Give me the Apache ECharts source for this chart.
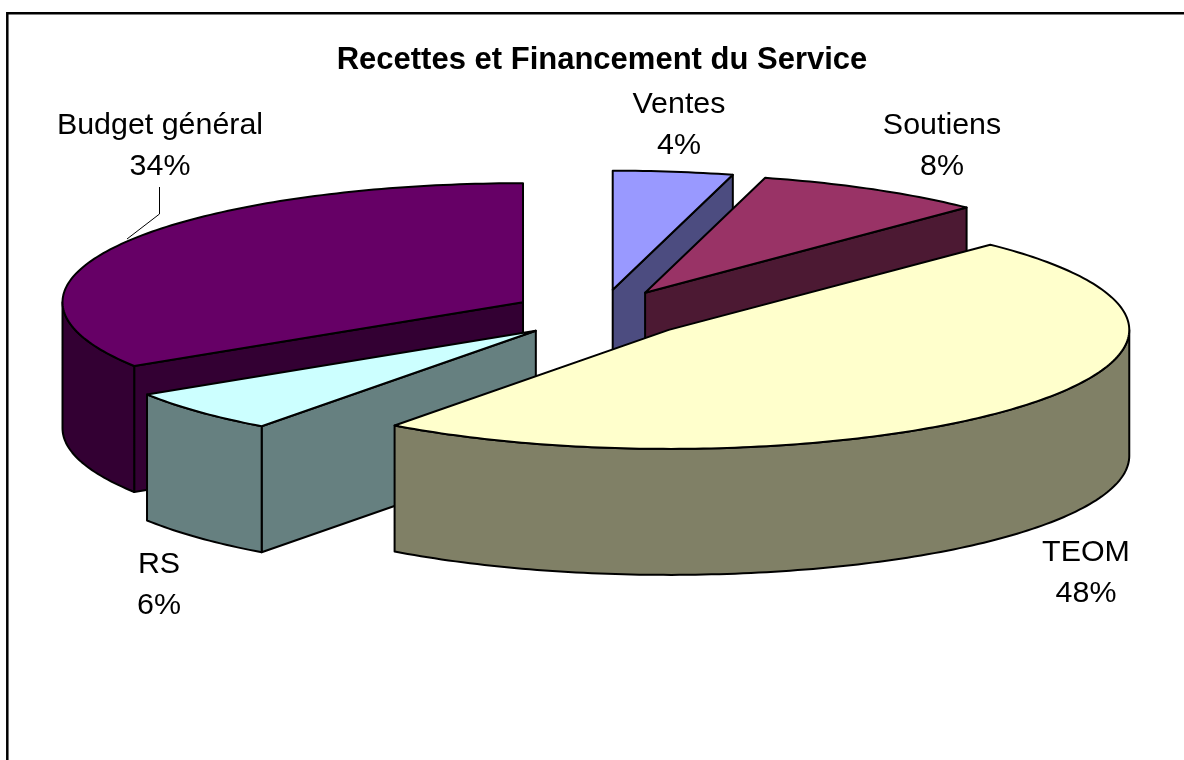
<!DOCTYPE html>
<html><head><meta charset="utf-8">
<style>html,body{margin:0;padding:0;background:#fff}#c{width:1184px;height:760px}</style>
<script src="https://cdn.jsdelivr.net/npm/echarts@6/dist/echarts.min.js"></script>
</head><body><div id="c"></div>
<script>
const categories = ['Ventes', 'Soutiens', 'TEOM', 'RS', 'Budget général'];
const shares = [4.2, 8.1, 47.85, 5.85, 34.0];
const topColors = ['#9999FF', '#993366', '#FFFFCC', '#CCFFFF', '#660066'];
const sideColors = ['#4C4C80', '#4C1933', '#808066', '#668080', '#330033'];
const drawOrder = [4, 0, 1, 3, 2];
const labelAnchors = [[679, 125], [942, 146], [1086, 573], [159, 585], [160, 146]];

const pieLayout = { cx: 601, cy: 314, rx: 460.5, ry: 119, depth: 126, explodeX: 89, explodeY: 24.5 };
const total = shares.reduce((a, b) => a + b, 0);
const starts = [];
shares.reduce((acc, v, i) => { starts[i] = acc; return acc + v; }, 0);

function arcPts(ox, oy, a0, a1, dy) {
  const n = Math.max(2, Math.ceil((a1 - a0) / (Math.PI / 180)));
  const pts = [];
  for (let k = 0; k <= n; k++) {
    const a = a0 + (a1 - a0) * k / n;
    pts.push([ox + pieLayout.rx * Math.sin(a), oy - pieLayout.ry * Math.cos(a) + dy]);
  }
  return pts;
}
const lineStyle = (fill) => ({ fill, stroke: '#000', lineWidth: 2, lineJoin: 'round' });

function renderSlice(params, api) {
  const i = api.value(0);
  const value = api.value(1);
  const start = api.value(2);
  const a0 = start / total * 2 * Math.PI, a1 = (start + value) / total * 2 * Math.PI;
  const mid = (a0 + a1) / 2;
  const L = pieLayout;
  const ox = L.cx + L.explodeX * Math.sin(mid), oy = L.cy - L.explodeY * Math.cos(mid);
  const children = [];
  const poly = (pts, fill) => children.push({ type: 'polygon', shape: { points: pts }, style: lineStyle(fill) });
  const wall = (a) => {
    const p = arcPts(ox, oy, a, a, 0)[0];
    poly([[ox, oy], p, [p[0], p[1] + L.depth], [ox, oy + L.depth]], sideColors[i]);
  };
  if (Math.sin(a1) > 0) wall(a1);
  if (Math.sin(a0) < 0) wall(a0);
  const f0 = Math.max(a0, Math.PI / 2), f1 = Math.min(a1, 1.5 * Math.PI);
  if (f1 > f0) {
    const upper = arcPts(ox, oy, f0, f1, 0);
    const lower = arcPts(ox, oy, f0, f1, L.depth).reverse();
    poly(upper.concat(lower), sideColors[i]);
  }
  poly([[ox, oy]].concat(arcPts(ox, oy, a0, a1, 0)), topColors[i]);
  return { type: 'group', children };
}

function renderLabel(params, api) {
  const i = api.value(0);
  return {
    type: 'text',
    x: labelAnchors[i][0], y: labelAnchors[i][1],
    style: {
      text: categories[i] + '\n' + Math.round(api.value(1) / total * 100) + '%',
      fill: '#000', font: '30.4px "Liberation Sans", Arial, sans-serif',
      align: 'center', verticalAlign: 'middle', lineHeight: 40.5
    }
  };
}

const rows = drawOrder.map(i => [i, shares[i], starts[i], categories[i]]);
const chart = echarts.init(document.getElementById('c'), null, { renderer: 'canvas' });
chart.setOption({
  animation: false,
  backgroundColor: '#fff',
  title: {
    text: 'Recettes et Financement du Service',
    left: 597, top: 40, textAlign: 'center',
    textStyle: { color: '#000', fontFamily: '"Liberation Sans", Arial, sans-serif', fontWeight: 'bold', fontSize: 31 }
  },
  graphic: [
    { type: 'rect', shape: { x: 7.3, y: 13.3, width: 1200, height: 800 }, style: { fill: 'none', stroke: '#000', lineWidth: 2.5 }, z: 0 },
    { type: 'polyline', shape: { points: [[159.5, 187], [159.5, 214], [127, 239]] }, style: { stroke: '#000', lineWidth: 1, fill: 'none' }, z: 0 }
  ],
  series: [
    { type: 'custom', coordinateSystem: 'none', renderItem: renderSlice, data: rows, z: 2, silent: true },
    { type: 'custom', coordinateSystem: 'none', renderItem: renderLabel, data: rows, z: 3, silent: true }
  ]
});
</script></body></html>
